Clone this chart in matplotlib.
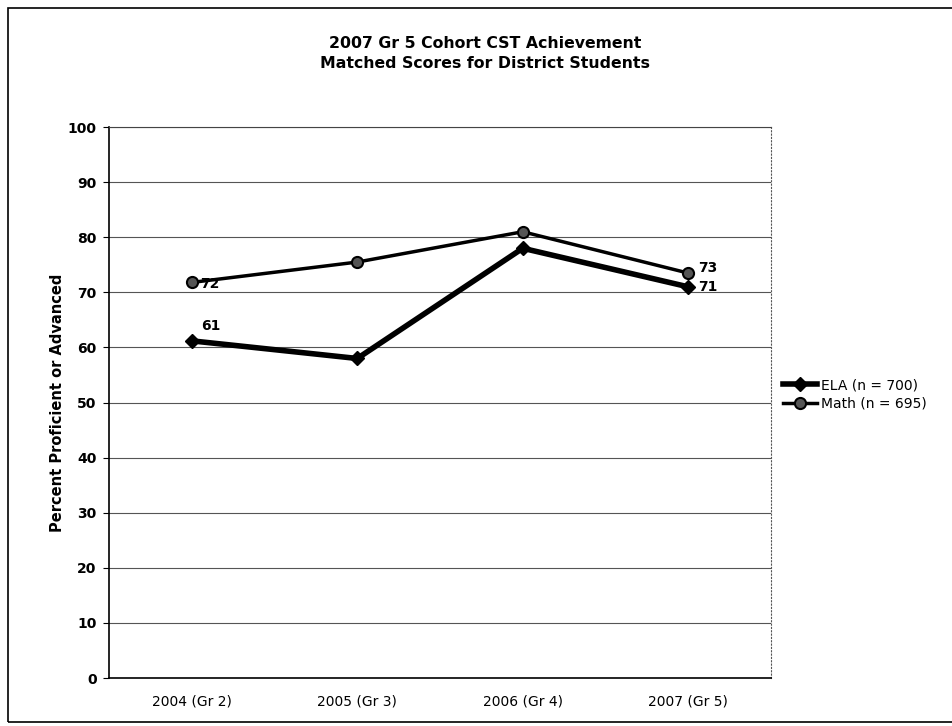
import numpy as np
import matplotlib
matplotlib.use("Agg")
import matplotlib.pyplot as plt
from matplotlib.patches import Rectangle

# chart data
years = ["2004 (Gr 2)", "2005 (Gr 3)", "2006 (Gr 4)", "2007 (Gr 5)"]
ela = [61.2, 58, 78, 71]
math_scores = [71.8, 75.5, 81, 73.5]
ela_labels = ["61", "", "", "71"]
math_labels = ["72", "", "", "73"]
y_ticks = [0, 10, 20, 30, 40, 50, 60, 70, 80, 90, 100]

plt.rcParams['font.family'] = ['DejaVu Sans']

fig = plt.figure(figsize=(9.53, 7.26), dpi=100)
ax = fig.add_axes([0.1144, 0.066, 0.6946, 0.759])

x = np.arange(len(years))

ax.plot(x, ela, color='black', lw=4, marker='D', ms=7, label='ELA (n = 700)', zorder=3)
ax.plot(x, math_scores, color='black', lw=2.5, marker='o', ms=8,
        mfc='#555555', mec='black', mew=1.5, label='Math (n = 695)', zorder=3)

# data labels
lbl = dict(fontsize=10, fontweight='bold')
ax.annotate(ela_labels[0], (x[0], ela[0]), xytext=(7, 6), textcoords='offset points',
            ha='left', va='bottom', **lbl)
ax.annotate(ela_labels[3], (x[3], ela[3]), xytext=(7, 0), textcoords='offset points',
            ha='left', va='center', **lbl)
ax.annotate(math_labels[0], (x[0], math_scores[0]), xytext=(6, -1), textcoords='offset points',
            ha='left', va='center', **lbl)
ax.annotate(math_labels[3], (x[3], math_scores[3]), xytext=(7, 4), textcoords='offset points',
            ha='left', va='center', **lbl)

ax.set_xlim(-0.5, len(years) - 0.5)
ax.set_ylim(0, 100)
ax.set_yticks(y_ticks)
ax.set_yticklabels([str(v) for v in y_ticks], fontsize=10, fontweight='bold')
ax.set_xticks(x)
ax.set_xticklabels(years, fontsize=10)
ax.tick_params(axis='x', length=0, pad=12)
ax.tick_params(axis='y', length=4, direction='out', pad=5)
ax.yaxis.grid(True, color='#555555', lw=0.8)
ax.set_axisbelow(True)
ax.spines['right'].set_linestyle((0, (1, 2)))
ax.spines['right'].set_color('#555555')
ax.spines['top'].set_color('#444444')
ax.spines['top'].set_lw(0.8)
ax.spines['left'].set_lw(1.2)
ax.spines['bottom'].set_lw(1.2)

ax.set_ylabel('Percent Proficient or Advanced', fontsize=10.5, fontweight='bold', labelpad=2)

fig.text(0.509, 0.926, '2007 Gr 5 Cohort CST Achievement\nMatched Scores for District Students',
         ha='center', va='center', fontsize=11.3, fontweight='bold', linespacing=1.45)

ax.legend(loc='center left', bbox_to_anchor=(1.0, 0.515), frameon=False,
          fontsize=10, handlelength=2.4, handletextpad=0.3, labelspacing=0.3,
          borderaxespad=0.5)

# outer border of the chart (right edge runs off the page)
fig.patches.append(Rectangle((8 / 953, 4 / 726), 1.0, 714 / 726, transform=fig.transFigure,
                             fill=False, ec='black', lw=1.2))

fig.savefig('out.png', dpi=100)
